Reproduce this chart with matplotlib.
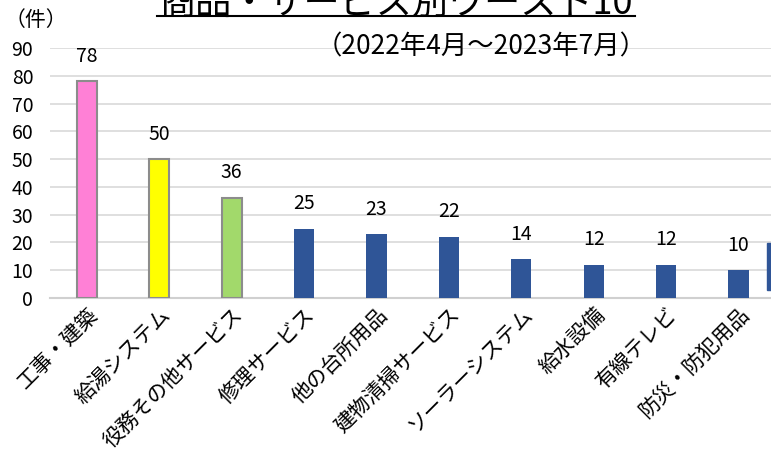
import matplotlib.pyplot as plt
from matplotlib.patches import Rectangle
from matplotlib.lines import Line2D

plt.rcParams['font.family'] = ['Noto Sans CJK JP', 'DejaVu Sans']

# データ
categories = ['工事・建築', '給湯システム', '役務その他サービス', '修理サービス', '他の台所用品',
              '建物清掃サービス', 'ソーラーシステム', '給水設備', '有線テレビ', '防災・防犯用品']
counts = [78, 50, 36, 25, 23, 22, 14, 12, 12, 10]
colors = ['#ff80d6', '#ffff00', '#a2d96b'] + ['#2f5597'] * 7
edges = ['#8c8c8c'] * 3 + ['none'] * 7
yticks = [0, 10, 20, 30, 40, 50, 60, 70, 80, 90]

fig = plt.figure(figsize=(7.71, 4.66), dpi=100)
ax = fig.add_axes([50 / 771, 1 - 298 / 466, 1 - 50 / 771, 250 / 466])

x = range(len(categories))
ax.bar(x, counts, width=0.28, color=colors, edgecolor=edges, linewidth=1.5, zorder=3)
for i, v in enumerate(counts):
    ax.annotate(str(v), (i, v), xytext=(0, 18), textcoords='offset points',
                ha='center', va='center', fontsize=14)

ax.set_xlim(-0.51, 9.45)
ax.set_ylim(0, 90)
ax.set_yticks(yticks)
ax.tick_params(axis='y', length=0, labelsize=14, pad=12)
ax.tick_params(axis='x', length=0, pad=4)
ax.yaxis.grid(True, color='#d9d9d9', linewidth=1.2, zorder=0)
ax.set_xticks(list(x))
ax.set_xticklabels(categories, rotation=45, ha='right', va='top',
                   rotation_mode='anchor', fontsize=15)
for s in ['top', 'right', 'left']:
    ax.spines[s].set_visible(False)
ax.spines['bottom'].set_color('#d0d0d0')
ax.spines['bottom'].set_linewidth(1.5)

# タイトル（上が切れている）
fig.text(396 / 771, 1 - 14 / 466, '商品・サービス別ワースト10', ha='center', va='baseline', fontsize=26)
fig.add_artist(Line2D([157 / 771, 635 / 771], [1 - 16 / 466, 1 - 16 / 466], color='black', linewidth=1.5))
fig.text(481 / 771, 1 - 47 / 466, '（2022年4月～2023年7月）', ha='center', va='center', fontsize=19)
fig.text(5 / 771, 1 - 20 / 466, '（件）', ha='left', va='center', fontsize=15)

# 右端のはみ出した図形
fig.add_artist(Rectangle((767 / 771, 1 - 290 / 466), 4 / 771, 47 / 466,
                         transform=fig.transFigure, color='#2f5597'))

fig.savefig('out.png', dpi=100)
